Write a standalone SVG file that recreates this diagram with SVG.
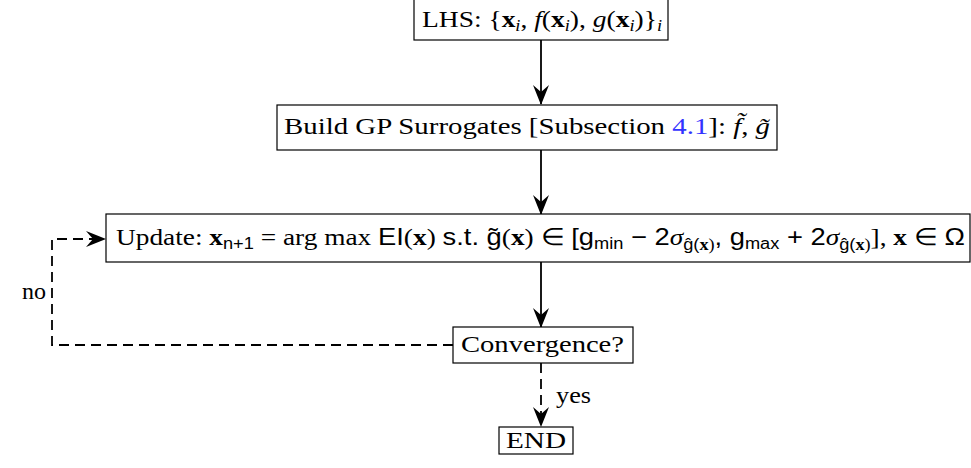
<svg xmlns="http://www.w3.org/2000/svg" width="971" height="468" viewBox="0 0 971 468">
<style>
.box{fill:#fff;stroke:#000;stroke-width:1.2}
.t{font-family:"Liberation Serif","Times New Roman",serif;font-size:24px;fill:#000}
.b{font-weight:bold}
.i{font-style:italic}
.s{font-family:"Liberation Sans",Arial,sans-serif}
.sub{font-size:16px}
.con{fill:none;stroke:#000;stroke-width:1.8}
.dash{stroke-dasharray:10,6}
</style>
<defs>
<marker id="ah" markerWidth="20" markerHeight="16" refX="19" refY="8" orient="auto" markerUnits="userSpaceOnUse">
<path d="M0,0 L20,8 L0,16 L7,8 z" fill="#000"/>
</marker>
</defs>
<rect width="971" height="468" fill="#fff"/>
<g id="connectors">
<line class="con" x1="541" y1="40" x2="541" y2="104" marker-end="url(#ah)"/>
<line class="con" x1="541" y1="150" x2="541" y2="214" marker-end="url(#ah)"/>
<line class="con" x1="541" y1="262" x2="541" y2="327" marker-end="url(#ah)"/>
<line class="con dash" x1="541" y1="363" x2="541" y2="426" marker-end="url(#ah)"/>
<path class="con dash" d="M453,345 H52 V239 H105" marker-end="url(#ah)"/>
<text class="t" x="556" y="403" textLength="35" lengthAdjust="spacingAndGlyphs">yes</text>
<text class="t" x="22" y="299" textLength="24" lengthAdjust="spacingAndGlyphs">no</text>
</g>
<g id="lhs">
<rect class="box" x="414" y="-1" width="254" height="41"/>
<text class="t" x="422" y="27" textLength="240" lengthAdjust="spacingAndGlyphs">LHS: {<tspan class="b">x</tspan><tspan class="i sub" dy="4">i</tspan><tspan dy="-4">, </tspan><tspan class="i">f</tspan>(<tspan class="b">x</tspan><tspan class="i sub" dy="4">i</tspan><tspan dy="-4">), </tspan><tspan class="i">g</tspan>(<tspan class="b">x</tspan><tspan class="i sub" dy="4">i</tspan><tspan dy="-4">)}</tspan><tspan class="i sub" dy="4">i</tspan></text>
</g>
<g id="build">
<rect class="box" x="277" y="105" width="500" height="45"/>
<text class="t" x="284" y="134" textLength="486" lengthAdjust="spacingAndGlyphs">Build GP Surrogates [Subsection <tspan fill="#3333ff">4.1</tspan>]:  <tspan class="i">f̃</tspan>,  <tspan class="i">g̃</tspan></text>
</g>
<g id="update">
<rect class="box" x="106" y="214" width="864" height="48"/>
<text class="t" x="116" y="245" textLength="849" lengthAdjust="spacingAndGlyphs">Update:  <tspan class="b">x</tspan><tspan class="s sub" dy="4">n+1</tspan><tspan dy="-4"> = arg max </tspan><tspan class="s">EI</tspan>(<tspan class="b">x</tspan>) <tspan class="s">s.t. g̃</tspan>(<tspan class="b">x</tspan>) ∈  <tspan class="s">[g</tspan><tspan class="s sub" dy="4">min</tspan><tspan class="s" dy="-4"> − 2</tspan><tspan class="i">σ</tspan><tspan class="s sub" dy="5">ĝ(</tspan><tspan class="b sub">x</tspan><tspan class="sub">)</tspan><tspan class="s" dy="-5">, g</tspan><tspan class="s sub" dy="4">max</tspan><tspan class="s" dy="-4"> + 2</tspan><tspan class="i">σ</tspan><tspan class="s sub" dy="5">ĝ(</tspan><tspan class="b sub">x</tspan><tspan class="sub">)</tspan><tspan dy="-5">],  </tspan><tspan class="b">x</tspan> ∈ <tspan class="s">Ω</tspan></text>
</g>
<g id="convergence">
<rect class="box" x="453" y="327" width="180" height="36"/>
<text class="t" x="461" y="352" textLength="163" lengthAdjust="spacingAndGlyphs">Convergence?</text>
</g>
<g id="end">
<rect class="box" x="499" y="427" width="74" height="27"/>
<text class="t" x="506" y="448" textLength="60" lengthAdjust="spacingAndGlyphs">END</text>
</g>
</svg>
